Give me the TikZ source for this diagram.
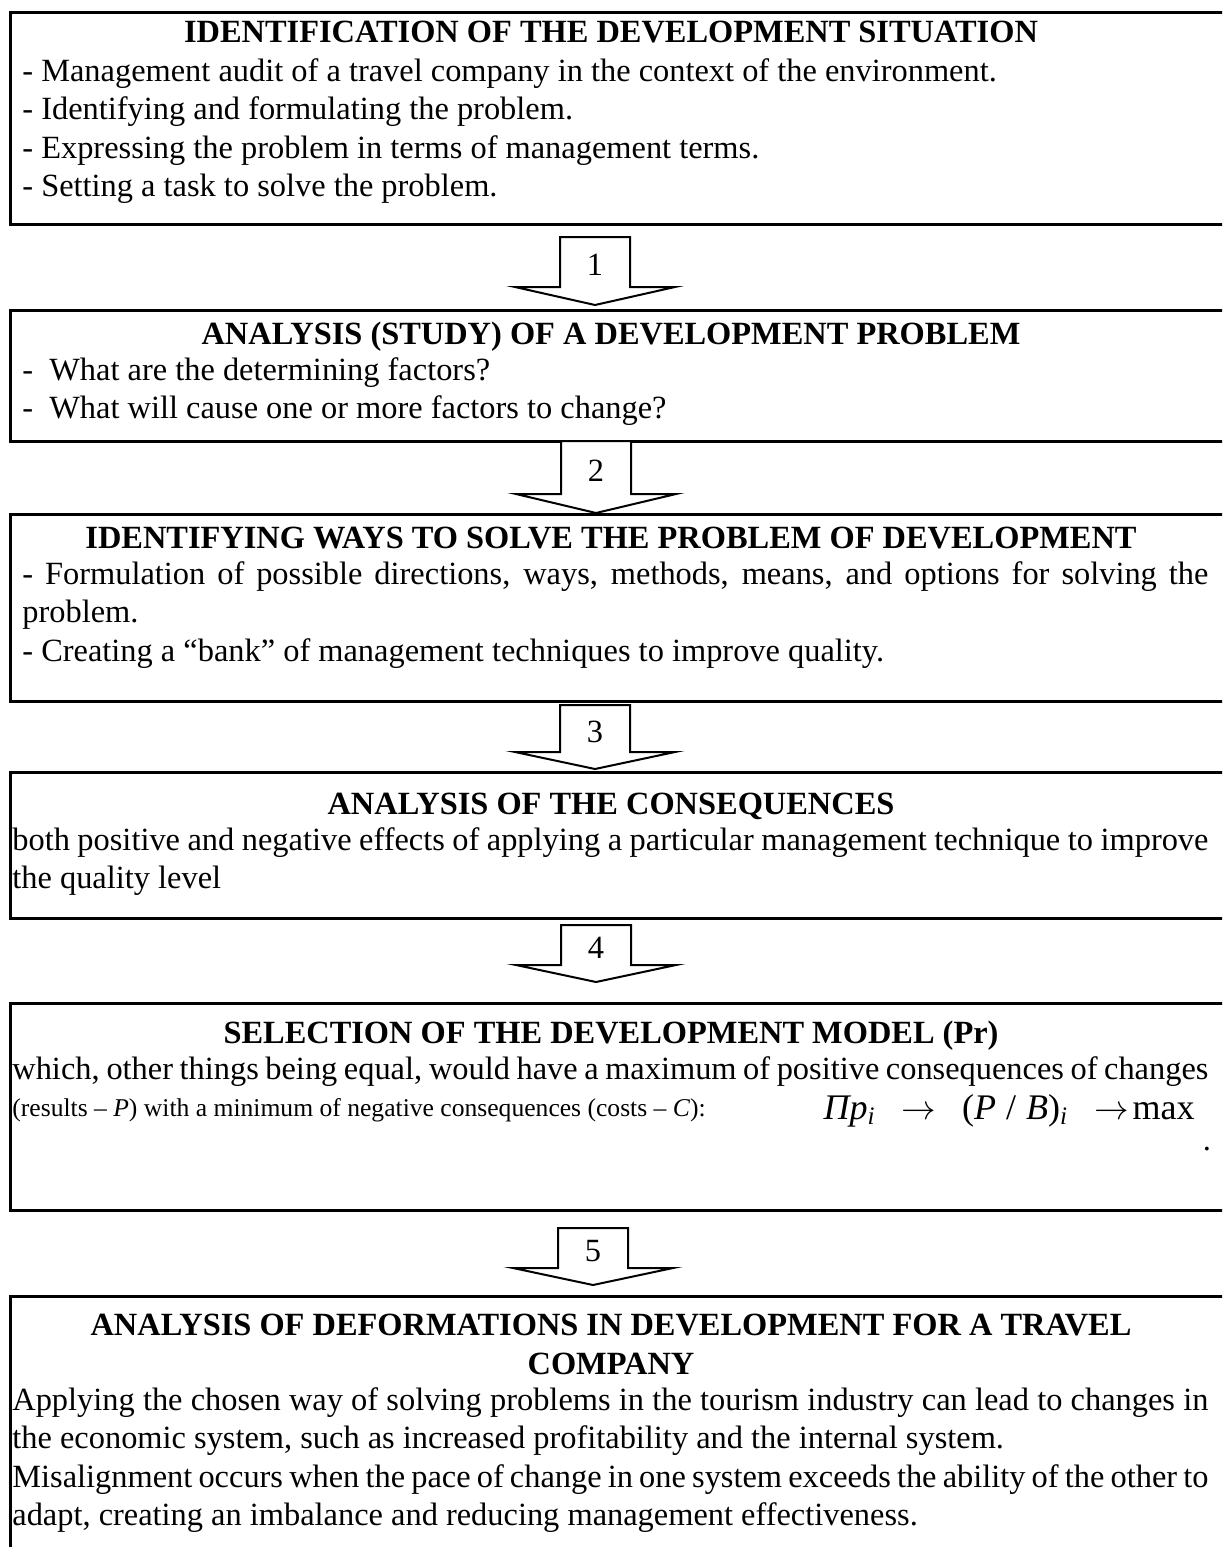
\documentclass[tikz,border=0pt]{standalone}
\usepackage{fontspec}
\setmainfont{Liberation Serif}
\newcommand\stagefont{\fontsize{16.2pt}{19.25pt}\selectfont}
\newcommand\smallstagefont{\fontsize{12.8pt}{16pt}\selectfont}
\newcommand\formulafont{\fontsize{18pt}{21pt}\selectfont}
% block arrow between two stages: (x, shaft top, head top, tip) name label
\def\stagearrow(#1,#2,#3,#4)#5#6{%
  \draw[arrowline] (#1-35,#2) -- (#1-35,#3) -- (#1-80,#3) -- (#1,#4) -- (#1+80,#3) -- (#1+35,#3) -- (#1+35,#2) -- cycle;
  \node[inner sep=0pt, font=\stagefont] (#5) at (#1,{(#2+#3)/2+3}) {#6};}

\begin{document}
\begin{tikzpicture}[x=0.5pt,y=-0.5pt,
  frame/.style={line width=1.5pt},
  arrowline/.style={line width=1pt, fill=white, line join=miter},
  heading/.style={font=\stagefont\bfseries, anchor=base, inner sep=0pt, align=center},
  bodytext/.style={font=\stagefont, anchor=base west, inner sep=0pt, align=justify, text width=593pt},
  widetext/.style={bodytext, text width=598pt}]

  \useasboundingbox (0,0) rectangle (1222,1547);
  \clip (0,0) rectangle (1222,1547);

  %%%%% stage frames %%%%%
  \draw[frame] (10,12) rectangle (1240,224);
  \draw[frame] (10,310) rectangle (1240,441);
  \draw[frame] (10,514) rectangle (1240,701);
  \draw[frame] (10,772) rectangle (1240,918);
  \draw[frame] (10,1003) rectangle (1240,1210);
  \draw[frame] (10,1296) rectangle (1240,1580);

  %%%%% stage 1 %%%%%
  \node[heading] (head1) at (611,42) {IDENTIFICATION OF THE DEVELOPMENT SITUATION};
  \node[bodytext] (body1) at (22,81) {- Management audit of a travel company in the context of the environment.\\
    - Identifying and formulating the problem.\\
    - Expressing the problem in terms of management terms.\\
    - Setting a task to solve the problem.};

  %%%%% stage 2 %%%%%
  \node[heading] (head2) at (611,344) {ANALYSIS (STUDY) OF A DEVELOPMENT PROBLEM};
  \node[bodytext] (body2) at (22,380) {-~ What are the determining factors?\\
    -~ What will cause one or more factors to change?};

  %%%%% stage 3 %%%%%
  \node[heading] (head3) at (611,548) {IDENTIFYING WAYS TO SOLVE THE PROBLEM OF DEVELOPMENT};
  \node[bodytext] (body3) at (22,584) {- Formulation of possible directions, ways, methods, means, and options for solving the\linebreak
    problem.\\
    - Creating a “bank” of management techniques to improve quality.};

  %%%%% stage 4 %%%%%
  \node[heading] (head4) at (611,814) {ANALYSIS OF THE CONSEQUENCES};
  \node[widetext] (body4) at (12,850) {both positive and negative effects of applying a particular management technique to improve\linebreak
    the quality level};

  %%%%% stage 5 %%%%%
  \node[heading] (head5) at (611,1043) {SELECTION OF THE DEVELOPMENT MODEL (Pr)};
  \node[widetext] (body5) at (12,1079) {which, other things being equal, would have a maximum of positive consequences of changes};
  \node[font=\smallstagefont, anchor=base west, inner sep=0pt] (body5b) at (12,1116)
    {(results -- \textit{P}) with a minimum of negative consequences (costs -- \textit{C}):};
  \node[font=\formulafont, anchor=base east, inner sep=0pt] (formula) at (1195,1119)
    {\textit{Пp}\textsubscript{\textit{i}}\hspace{13pt}$\rightarrow$\hspace{13pt}(\textit{P}\;/\;\textit{B})\textsubscript{\textit{i}}\hspace{13pt}$\rightarrow$\hspace{2pt}max};
  \node[font=\stagefont, anchor=base, inner sep=0pt] (stop5) at (1207,1150) {.};

  %%%%% stage 6 %%%%%
  \node[heading] (head6) at (611,1374) {ANALYSIS OF DEFORMATIONS IN DEVELOPMENT FOR A TRAVEL\\COMPANY};
  \node[widetext] (body6) at (12,1410) {Applying the chosen way of solving problems in the tourism industry can lead to changes in\linebreak
    the economic system, such as increased profitability and the internal system.\\
    Misalignment occurs when the pace of change in one system exceeds the ability of the other to\linebreak
    adapt, creating an imbalance and reducing management effectiveness.};

  %%%%% arrows %%%%%
  \stagearrow(595,237,287,305){step1}{1}
  \stagearrow(596,441,494,513){step2}{2}
  \stagearrow(595,705,752,769){step3}{3}
  \stagearrow(596,925,965,982){step4}{4}
  \stagearrow(593,1228,1268,1285){step5}{5}

\end{tikzpicture}
\end{document}
